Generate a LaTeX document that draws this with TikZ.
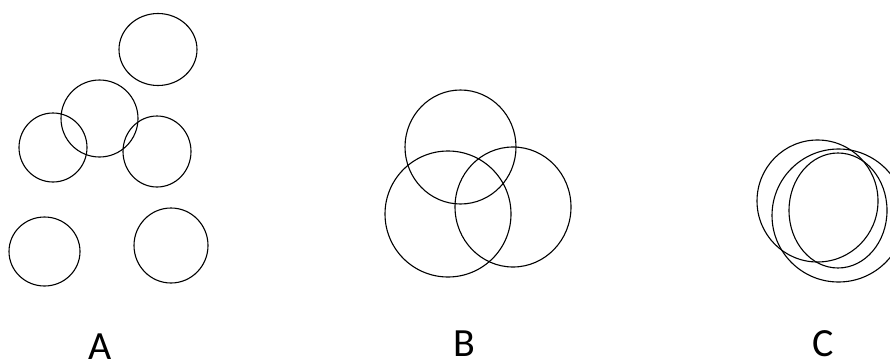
\documentclass[tikz,border=0pt]{standalone}
\usepackage{fontspec}
\setmainfont{Carlito}
\begin{document}
\begin{tikzpicture}[x=1pt, y=-1pt, line width=1.1pt]
			\useasboundingbox (0,0) rectangle (890,361);
			% group A
			\draw (158,49.5) ellipse (39 and 36);
			\draw (99.5,118.5) circle (38.5);
			\draw (53,147.5) ellipse (34 and 34.5);
			\draw (157,151.5) ellipse (34 and 35.5);
			\draw (44.5,251.5) ellipse (35.5 and 34.5);
			\draw (171,245.5) ellipse (37 and 37.5);
			% group B
			\draw (460.5,147) ellipse (55.5 and 57);
			\draw (448,214) circle (63);
			\draw (513,207) ellipse (58 and 60);
			% group C
			\draw (817.5,201) ellipse (60.5 and 61);
			\draw (838.5,215.5) circle (66.5);
			\draw (838,210.5) ellipse (49 and 57.5);
			\node[anchor=base, inner sep=0] (labA) at (100.5,359) {\fontsize{40}{48}\selectfont A};
			\node[anchor=base, inner sep=0] (labB) at (464,356) {\fontsize{40}{48}\selectfont B};
			\node[anchor=base, inner sep=0] (labC) at (823,356) {\fontsize{40}{48}\selectfont C};
		\end{tikzpicture}
\end{document}
